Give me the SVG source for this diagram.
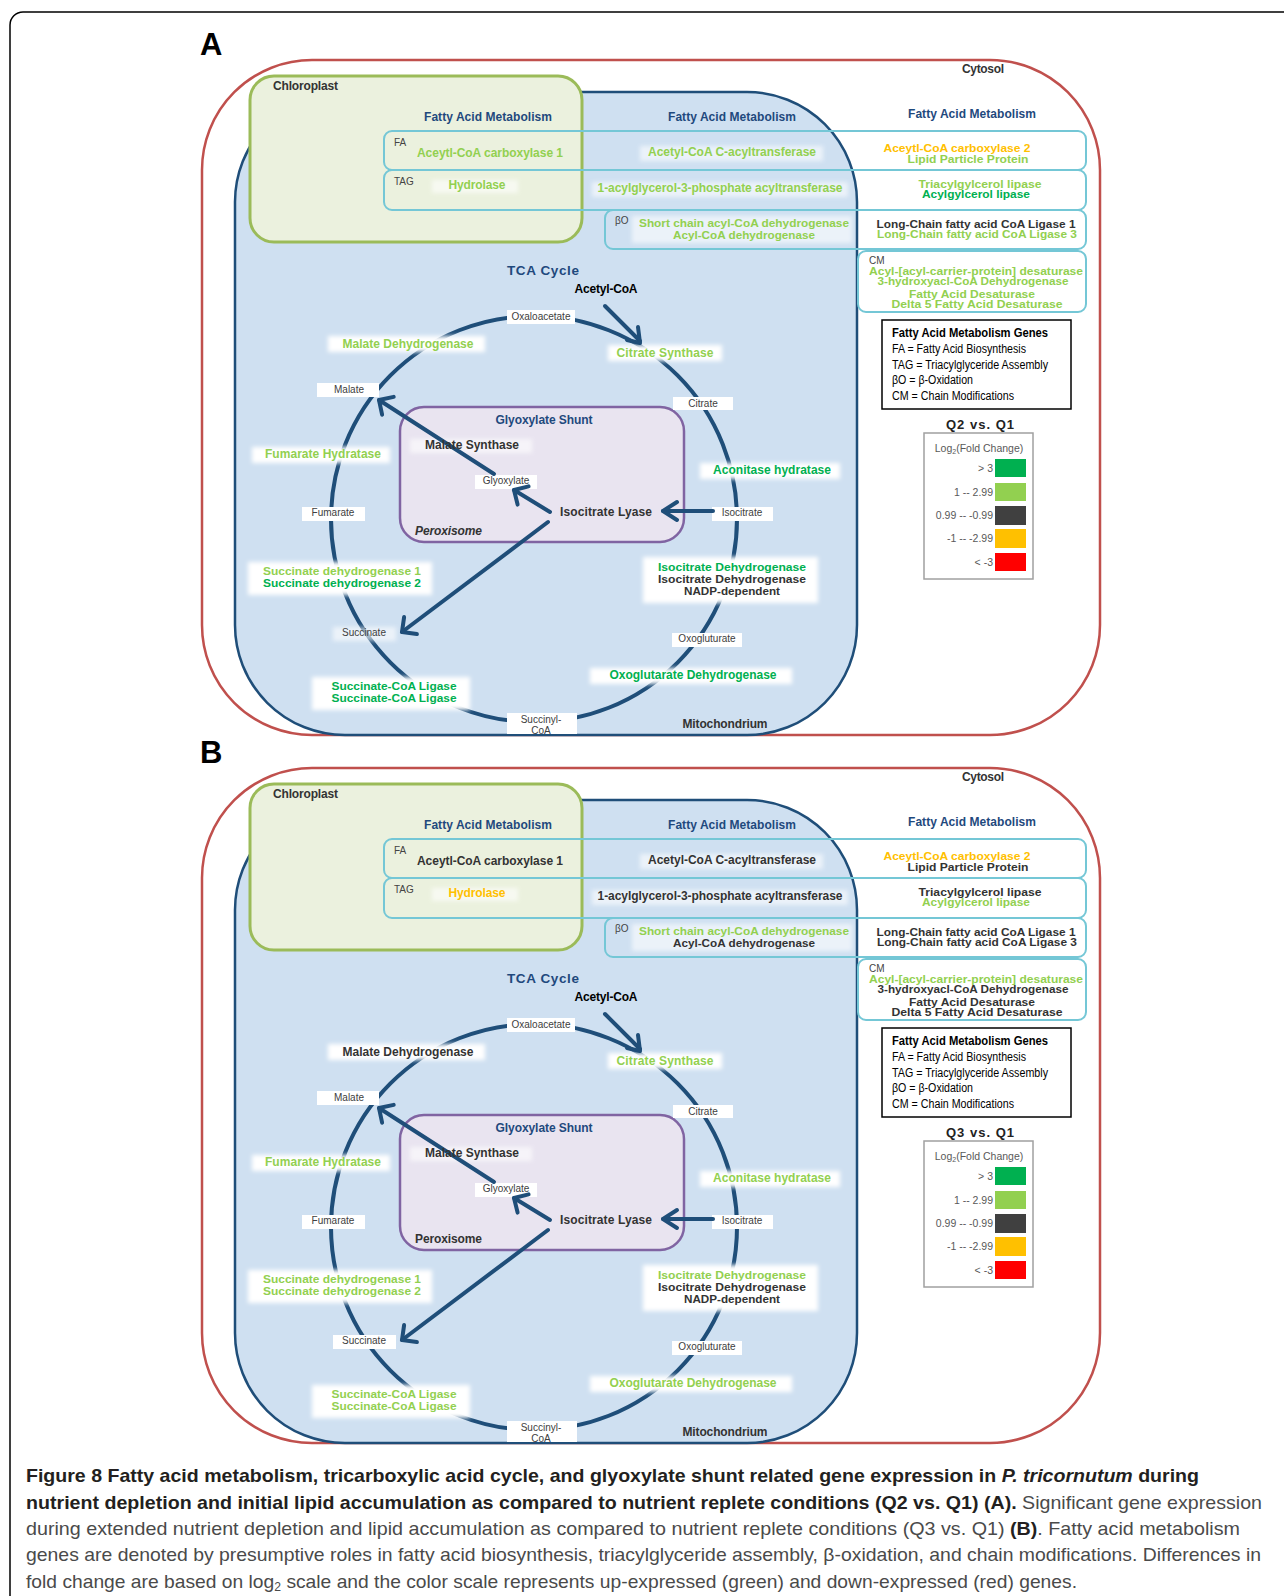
<svg xmlns="http://www.w3.org/2000/svg" width="1284" height="1596" viewBox="0 0 1284 1596">
<defs>
<style>
text{font-family:"Liberation Sans",Arial,sans-serif}
.b{font-weight:bold;font-size:12px;text-anchor:middle}
.s{font-size:10.3px}
.h{fill:#1f497d}
.lg{fill:#92d050}.dg{fill:#00b050}.gy{fill:#333333}.or{fill:#ffc000}.bk{fill:#000}
.met{font-size:10px;fill:#404040;text-anchor:middle}
.rl{font-size:10px;fill:#444}
.row{fill:none;stroke:#74c7d6;stroke-width:2}
.wb{fill:#fff;filter:url(#soft)}
.wg{fill:#fff;opacity:0.6;filter:url(#soft)}
.arr{fill:none;stroke:#1f4e79;stroke-width:4;stroke-linecap:round;stroke-linejoin:round}
.cyc{fill:none;stroke:#1f4e79;stroke-width:4}
.cyto{fill:#fff;stroke:#c0504d;stroke-width:2.5}
.mito{fill:#cfe0f1;stroke:#1f4e79;stroke-width:2.5}
.chl{fill:#ebf1de;stroke:#9bbb59;stroke-width:3}
.per{fill:#e9e4f0;stroke:#8064a2;stroke-width:2.5}
.leg{font-size:12px;fill:#000}
.sc{font-size:10.5px;fill:#595959;text-anchor:end}
.cap{font-size:19px;fill:#231f20}
.capl{fill:#4a4a4a;font-weight:normal}
</style>
<filter id="soft" x="-0.3" y="-0.8" width="1.6" height="2.6"><feGaussianBlur stdDeviation="2"/></filter>
</defs>
<rect width="1284" height="1596" fill="#fff"/>
<rect x="10" y="12" width="1300" height="1620" rx="13" fill="none" stroke="#000" stroke-width="1.5"/>

<g id="panelA">
<text x="200" y="55" style="font-size:31px;font-weight:bold" class="bk">A</text>
<g id="A-cytosol"><rect class="cyto" x="202" y="60" width="898" height="675" rx="110"/><text class="b gy" x="983" y="73" textLength="42">Cytosol</text></g>
<g id="A-mitochondrion"><rect class="mito" x="235" y="92" width="622" height="643" rx="110"/></g>
<g id="A-chloroplast"><rect class="chl" x="250" y="76" width="332" height="166" rx="24"/><text class="b gy" style="text-anchor:start" x="273" y="90" textLength="65">Chloroplast</text></g>
<g id="A-rows">
<rect class="row" x="384" y="131" width="702" height="39" rx="8"/>
<rect class="row" x="384" y="170" width="702" height="40" rx="8"/>
<rect class="row" x="605" y="210" width="481" height="39" rx="8"/>
<rect class="row" x="858" y="251" width="228" height="61" rx="8"/>
<text class="rl" x="394" y="146">FA</text>
<text class="rl" x="394" y="185">TAG</text>
<text class="rl" x="615" y="224">βO</text>
<text class="rl" x="869" y="264">CM</text>
</g>
<g id="A-peroxisome"><rect class="per" x="400" y="407" width="284" height="135" rx="24"/></g>
<g id="A-cycle"><circle class="cyc" cx="534" cy="519" r="203"/></g>
<g id="A-boxes">
<rect class="wg" x="432" y="180" width="86" height="13"/>
<rect class="wg" x="640" y="146" width="183" height="15"/>
<rect class="wg" x="592" y="182" width="256" height="15"/>
<rect class="wg" x="632" y="216" width="220" height="27"/>
<rect class="wb" x="328" y="336" width="157" height="16"/>
<rect class="wb" x="608" y="345" width="114" height="16"/>
<rect class="wb" x="700" y="463" width="140" height="16"/>
<rect class="wb" x="643" y="557" width="175" height="46"/>
<rect class="wb" x="590" y="668" width="202" height="16"/>
<rect class="wb" x="312" y="677" width="158" height="33"/>
<rect class="wb" x="248" y="562" width="184" height="33"/>
<rect class="wb" x="252" y="447" width="138" height="16"/>
<rect class="wg" x="410" y="439" width="122" height="14"/>
<rect fill="#fff" x="507" y="310" width="68" height="14"/>
<rect fill="#fff" x="673" y="397" width="60" height="13"/>
<rect fill="#fff" x="712" y="507" width="61" height="14"/>
<rect fill="#fff" x="672" y="633" width="70" height="14"/>
<rect fill="#fff" x="507" y="713" width="70" height="21"/>
<rect class="wg" x="333" y="627" width="63" height="14"/>
<rect fill="#fff" x="302" y="507" width="63" height="14"/>
<rect fill="#fff" x="317" y="383" width="62" height="14"/>
<rect fill="#fff" x="475" y="475" width="62" height="14"/>
</g>
<g id="A-connectors">
<path class="arr" d="M605,306 L640,341"/>
<path class="arr" d="M627,340 L640,343 L638,327"/>
<path class="arr" d="M713,511 L663,511"/>
<path class="arr" d="M677,502 L663,511 L677,520"/>
<path class="arr" d="M550,512 L514,490"/>
<path class="arr" d="M528.6,486.4 L514,490 L517.6,504.6"/>
<path class="arr" d="M494,474 L379,400"/>
<path class="arr" d="M393.7,396.9 L379,400 L382.1,414.7"/>
<path class="arr" d="M548,522 L402,632"/>
<path class="arr" d="M404.1,617.1 L402,632 L416.9,634.1"/>
</g>
<g id="A-fam">
<text class="b h" x="488" y="121" textLength="128">Fatty Acid Metabolism</text>
<text class="b h" x="732" y="121" textLength="128">Fatty Acid Metabolism</text>
<text class="b h" x="972" y="118" textLength="128">Fatty Acid Metabolism</text>
<text class="b lg" x="490" y="157" textLength="146">Aceytl-CoA carboxylase 1</text>
<text class="b lg" x="477" y="189" textLength="57">Hydrolase</text>
<text class="b lg" x="732" y="156" textLength="168">Acetyl-CoA C-acyltransferase</text>
<text class="b lg" x="720" y="192" textLength="245">1-acylglycerol-3-phosphate acyltransferase</text>
<text class="b s lg" x="744" y="227" textLength="210" lengthAdjust="spacingAndGlyphs">Short chain acyl-CoA dehydrogenase</text>
<text class="b s lg" x="744" y="239" textLength="142" lengthAdjust="spacingAndGlyphs">Acyl-CoA dehydrogenase</text>
<text class="b s or" x="957" y="152" textLength="147" lengthAdjust="spacingAndGlyphs">Aceytl-CoA carboxylase 2</text>
<text class="b s lg" x="968" y="163" textLength="121" lengthAdjust="spacingAndGlyphs">Lipid Particle Protein</text>
<text class="b s lg" x="980" y="188" textLength="123" lengthAdjust="spacingAndGlyphs">Triacylgylcerol lipase</text>
<text class="b s dg" x="976" y="198" textLength="108" lengthAdjust="spacingAndGlyphs">Acylgylcerol lipase</text>
<text class="b s gy" x="976" y="228" textLength="199" lengthAdjust="spacingAndGlyphs">Long-Chain fatty acid CoA Ligase 1</text>
<text class="b s lg" x="977" y="238" textLength="200" lengthAdjust="spacingAndGlyphs">Long-Chain fatty acid CoA Ligase 3</text>
<text class="b s lg" x="976" y="275" textLength="214" lengthAdjust="spacingAndGlyphs">Acyl-[acyl-carrier-protein] desaturase</text>
<text class="b s lg" x="973" y="285" textLength="191" lengthAdjust="spacingAndGlyphs">3-hydroxyacl-CoA Dehydrogenase</text>
<text class="b s lg" x="972" y="298" textLength="126" lengthAdjust="spacingAndGlyphs">Fatty Acid Desaturase</text>
<text class="b s lg" x="977" y="308" textLength="171" lengthAdjust="spacingAndGlyphs">Delta 5 Fatty Acid Desaturase</text>
</g>
<g id="A-tca">
<text class="b h" style="font-size:13.5px" x="543" y="275" textLength="72">TCA Cycle</text>
<text class="b bk" x="606" y="293" textLength="63">Acetyl-CoA</text>
<text class="b lg" x="408" y="348" textLength="131">Malate Dehydrogenase</text>
<text class="b lg" x="665" y="357" textLength="97">Citrate Synthase</text>
<text class="b dg" x="772" y="474" textLength="118">Aconitase hydratase</text>
<text class="b s dg" x="732" y="571" textLength="148" lengthAdjust="spacingAndGlyphs">Isocitrate Dehydrogenase</text>
<text class="b s gy" x="732" y="583" textLength="148" lengthAdjust="spacingAndGlyphs">Isocitrate Dehydrogenase</text>
<text class="b s gy" x="732" y="595" textLength="96" lengthAdjust="spacingAndGlyphs">NADP-dependent</text>
<text class="b dg" x="693" y="679" textLength="167">Oxoglutarate Dehydrogenase</text>
<text class="b s dg" x="394" y="690" textLength="125" lengthAdjust="spacingAndGlyphs">Succinate-CoA Ligase</text>
<text class="b s dg" x="394" y="702" textLength="125" lengthAdjust="spacingAndGlyphs">Succinate-CoA Ligase</text>
<text class="b s lg" x="342" y="575" textLength="158" lengthAdjust="spacingAndGlyphs">Succinate dehydrogenase 1</text>
<text class="b s dg" x="342" y="587" textLength="158" lengthAdjust="spacingAndGlyphs">Succinate dehydrogenase 2</text>
<text class="b lg" x="323" y="458" textLength="116">Fumarate Hydratase</text>
<text class="b h" x="544" y="424" textLength="97">Glyoxylate Shunt</text>
<text class="b gy" x="472" y="449" textLength="94">Malate Synthase</text>
<text class="b gy" x="606" y="516" textLength="92">Isocitrate Lyase</text>
<text class="b gy" style="text-anchor:start;font-style:italic" x="415" y="535" textLength="67">Peroxisome</text>
<text class="b gy" x="725" y="728" textLength="85">Mitochondrium</text>
<text class="met" x="541" y="320">Oxaloacetate</text>
<text class="met" x="703" y="407">Citrate</text>
<text class="met" x="742" y="516">Isocitrate</text>
<text class="met" x="707" y="642">Oxogluturate</text>
<text class="met" x="541" y="723">Succinyl-</text>
<text class="met" x="541" y="734">CoA</text>
<text class="met" x="364" y="636">Succinate</text>
<text class="met" x="333" y="516">Fumarate</text>
<text class="met" x="349" y="393">Malate</text>
<text class="met" x="506" y="484">Glyoxylate</text>
</g>
<g id="A-legend">
<rect x="882" y="320" width="189" height="89" fill="#fff" stroke="#000" stroke-width="1.5"/>
<text class="leg" style="font-weight:bold" x="892" y="337" textLength="156" lengthAdjust="spacingAndGlyphs">Fatty Acid Metabolism Genes</text>
<text class="leg" x="892" y="353" textLength="134" lengthAdjust="spacingAndGlyphs">FA = Fatty Acid Biosynthesis</text>
<text class="leg" x="892" y="369" textLength="156" lengthAdjust="spacingAndGlyphs">TAG = Triacylglyceride Assembly</text>
<text class="leg" x="892" y="384" textLength="81" lengthAdjust="spacingAndGlyphs">βO = β-Oxidation</text>
<text class="leg" x="892" y="400" textLength="122" lengthAdjust="spacingAndGlyphs">CM = Chain Modifications</text>
</g>
<g id="A-scale">
<text class="b" style="font-size:13px;fill:#222" x="980" y="429" textLength="68">Q2 vs. Q1</text>
<rect x="924" y="433" width="109" height="146" fill="#fff" stroke="#a0a0a0" stroke-width="1.5"/>
<text style="font-size:10.5px;fill:#595959;text-anchor:middle" x="979" y="452">Log<tspan style="font-size:7px" dy="2">2</tspan><tspan dy="-2">(Fold Change)</tspan></text>
<rect x="995" y="459" width="31" height="18" fill="#00b050"/>
<rect x="995" y="483" width="31" height="18" fill="#92d050"/>
<rect x="995" y="506" width="31" height="19" fill="#404040"/>
<rect x="995" y="529" width="31" height="19" fill="#ffc000"/>
<rect x="995" y="553" width="31" height="18" fill="#ff0000"/>
<text class="sc" x="993" y="472">&gt; 3</text>
<text class="sc" x="993" y="496">1 -- 2.99</text>
<text class="sc" x="993" y="519">0.99 -- -0.99</text>
<text class="sc" x="993" y="542">-1 -- -2.99</text>
<text class="sc" x="993" y="566">&lt; -3</text>
</g>
</g>

<g id="panelB" transform="translate(0,708)">
<text x="200" y="55" style="font-size:31px;font-weight:bold" class="bk">B</text>
<g id="B-cytosol"><rect class="cyto" x="202" y="60" width="898" height="675" rx="110"/><text class="b gy" x="983" y="73" textLength="42">Cytosol</text></g>
<g id="B-mitochondrion"><rect class="mito" x="235" y="92" width="622" height="643" rx="110"/></g>
<g id="B-chloroplast"><rect class="chl" x="250" y="76" width="332" height="166" rx="24"/><text class="b gy" style="text-anchor:start" x="273" y="90" textLength="65">Chloroplast</text></g>
<g id="B-rows">
<rect class="row" x="384" y="131" width="702" height="39" rx="8"/>
<rect class="row" x="384" y="170" width="702" height="40" rx="8"/>
<rect class="row" x="605" y="210" width="481" height="39" rx="8"/>
<rect class="row" x="858" y="251" width="228" height="61" rx="8"/>
<text class="rl" x="394" y="146">FA</text>
<text class="rl" x="394" y="185">TAG</text>
<text class="rl" x="615" y="224">βO</text>
<text class="rl" x="869" y="264">CM</text>
</g>
<g id="B-peroxisome"><rect class="per" x="400" y="407" width="284" height="135" rx="24"/></g>
<g id="B-cycle"><circle class="cyc" cx="534" cy="519" r="203"/></g>
<g id="B-boxes">
<rect class="wg" x="432" y="180" width="86" height="13"/>
<rect class="wg" x="640" y="146" width="183" height="15"/>
<rect class="wg" x="592" y="182" width="256" height="15"/>
<rect class="wg" x="632" y="216" width="220" height="27"/>
<rect class="wb" x="328" y="336" width="157" height="16"/>
<rect class="wb" x="608" y="345" width="114" height="16"/>
<rect class="wb" x="700" y="463" width="140" height="16"/>
<rect class="wb" x="643" y="557" width="175" height="46"/>
<rect class="wb" x="590" y="668" width="202" height="16"/>
<rect class="wb" x="312" y="677" width="158" height="33"/>
<rect class="wb" x="248" y="562" width="184" height="33"/>
<rect class="wb" x="252" y="447" width="138" height="16"/>
<rect class="wg" x="410" y="439" width="122" height="14"/>
<rect fill="#fff" x="507" y="310" width="68" height="14"/>
<rect fill="#fff" x="673" y="397" width="60" height="13"/>
<rect fill="#fff" x="712" y="507" width="61" height="14"/>
<rect fill="#fff" x="672" y="633" width="70" height="14"/>
<rect fill="#fff" x="507" y="713" width="70" height="21"/>
<rect fill="#fff" x="333" y="627" width="63" height="14"/>
<rect fill="#fff" x="302" y="507" width="63" height="14"/>
<rect fill="#fff" x="317" y="383" width="62" height="14"/>
<rect fill="#fff" x="475" y="475" width="62" height="14"/>
</g>
<g id="B-connectors">
<path class="arr" d="M605,306 L640,341"/>
<path class="arr" d="M627,340 L640,343 L638,327"/>
<path class="arr" d="M713,511 L663,511"/>
<path class="arr" d="M677,502 L663,511 L677,520"/>
<path class="arr" d="M550,512 L514,490"/>
<path class="arr" d="M528.6,486.4 L514,490 L517.6,504.6"/>
<path class="arr" d="M494,474 L379,400"/>
<path class="arr" d="M393.7,396.9 L379,400 L382.1,414.7"/>
<path class="arr" d="M548,522 L402,632"/>
<path class="arr" d="M404.1,617.1 L402,632 L416.9,634.1"/>
</g>
<g id="B-fam">
<text class="b h" x="488" y="121" textLength="128">Fatty Acid Metabolism</text>
<text class="b h" x="732" y="121" textLength="128">Fatty Acid Metabolism</text>
<text class="b h" x="972" y="118" textLength="128">Fatty Acid Metabolism</text>
<text class="b gy" x="490" y="157" textLength="146">Aceytl-CoA carboxylase 1</text>
<text class="b or" x="477" y="189" textLength="57">Hydrolase</text>
<text class="b gy" x="732" y="156" textLength="168">Acetyl-CoA C-acyltransferase</text>
<text class="b gy" x="720" y="192" textLength="245">1-acylglycerol-3-phosphate acyltransferase</text>
<text class="b s lg" x="744" y="227" textLength="210" lengthAdjust="spacingAndGlyphs">Short chain acyl-CoA dehydrogenase</text>
<text class="b s gy" x="744" y="239" textLength="142" lengthAdjust="spacingAndGlyphs">Acyl-CoA dehydrogenase</text>
<text class="b s or" x="957" y="152" textLength="147" lengthAdjust="spacingAndGlyphs">Aceytl-CoA carboxylase 2</text>
<text class="b s gy" x="968" y="163" textLength="121" lengthAdjust="spacingAndGlyphs">Lipid Particle Protein</text>
<text class="b s gy" x="980" y="188" textLength="123" lengthAdjust="spacingAndGlyphs">Triacylgylcerol lipase</text>
<text class="b s lg" x="976" y="198" textLength="108" lengthAdjust="spacingAndGlyphs">Acylgylcerol lipase</text>
<text class="b s gy" x="976" y="228" textLength="199" lengthAdjust="spacingAndGlyphs">Long-Chain fatty acid CoA Ligase 1</text>
<text class="b s gy" x="977" y="238" textLength="200" lengthAdjust="spacingAndGlyphs">Long-Chain fatty acid CoA Ligase 3</text>
<text class="b s lg" x="976" y="275" textLength="214" lengthAdjust="spacingAndGlyphs">Acyl-[acyl-carrier-protein] desaturase</text>
<text class="b s gy" x="973" y="285" textLength="191" lengthAdjust="spacingAndGlyphs">3-hydroxyacl-CoA Dehydrogenase</text>
<text class="b s gy" x="972" y="298" textLength="126" lengthAdjust="spacingAndGlyphs">Fatty Acid Desaturase</text>
<text class="b s gy" x="977" y="308" textLength="171" lengthAdjust="spacingAndGlyphs">Delta 5 Fatty Acid Desaturase</text>
</g>
<g id="B-tca">
<text class="b h" style="font-size:13.5px" x="543" y="275" textLength="72">TCA Cycle</text>
<text class="b bk" x="606" y="293" textLength="63">Acetyl-CoA</text>
<text class="b gy" x="408" y="348" textLength="131">Malate Dehydrogenase</text>
<text class="b lg" x="665" y="357" textLength="97">Citrate Synthase</text>
<text class="b lg" x="772" y="474" textLength="118">Aconitase hydratase</text>
<text class="b s lg" x="732" y="571" textLength="148" lengthAdjust="spacingAndGlyphs">Isocitrate Dehydrogenase</text>
<text class="b s gy" x="732" y="583" textLength="148" lengthAdjust="spacingAndGlyphs">Isocitrate Dehydrogenase</text>
<text class="b s gy" x="732" y="595" textLength="96" lengthAdjust="spacingAndGlyphs">NADP-dependent</text>
<text class="b lg" x="693" y="679" textLength="167">Oxoglutarate Dehydrogenase</text>
<text class="b s lg" x="394" y="690" textLength="125" lengthAdjust="spacingAndGlyphs">Succinate-CoA Ligase</text>
<text class="b s lg" x="394" y="702" textLength="125" lengthAdjust="spacingAndGlyphs">Succinate-CoA Ligase</text>
<text class="b s lg" x="342" y="575" textLength="158" lengthAdjust="spacingAndGlyphs">Succinate dehydrogenase 1</text>
<text class="b s lg" x="342" y="587" textLength="158" lengthAdjust="spacingAndGlyphs">Succinate dehydrogenase 2</text>
<text class="b lg" x="323" y="458" textLength="116">Fumarate Hydratase</text>
<text class="b h" x="544" y="424" textLength="97">Glyoxylate Shunt</text>
<text class="b gy" x="472" y="449" textLength="94">Malate Synthase</text>
<text class="b gy" x="606" y="516" textLength="92">Isocitrate Lyase</text>
<text class="b gy" style="text-anchor:start" x="415" y="535" textLength="67">Peroxisome</text>
<text class="b gy" x="725" y="728" textLength="85">Mitochondrium</text>
<text class="met" x="541" y="320">Oxaloacetate</text>
<text class="met" x="703" y="407">Citrate</text>
<text class="met" x="742" y="516">Isocitrate</text>
<text class="met" x="707" y="642">Oxogluturate</text>
<text class="met" x="541" y="723">Succinyl-</text>
<text class="met" x="541" y="734">CoA</text>
<text class="met" x="364" y="636">Succinate</text>
<text class="met" x="333" y="516">Fumarate</text>
<text class="met" x="349" y="393">Malate</text>
<text class="met" x="506" y="484">Glyoxylate</text>
</g>
<g id="B-legend">
<rect x="882" y="320" width="189" height="89" fill="#fff" stroke="#000" stroke-width="1.5"/>
<text class="leg" style="font-weight:bold" x="892" y="337" textLength="156" lengthAdjust="spacingAndGlyphs">Fatty Acid Metabolism Genes</text>
<text class="leg" x="892" y="353" textLength="134" lengthAdjust="spacingAndGlyphs">FA = Fatty Acid Biosynthesis</text>
<text class="leg" x="892" y="369" textLength="156" lengthAdjust="spacingAndGlyphs">TAG = Triacylglyceride Assembly</text>
<text class="leg" x="892" y="384" textLength="81" lengthAdjust="spacingAndGlyphs">βO = β-Oxidation</text>
<text class="leg" x="892" y="400" textLength="122" lengthAdjust="spacingAndGlyphs">CM = Chain Modifications</text>
</g>
<g id="B-scale">
<text class="b" style="font-size:13px;fill:#222" x="980" y="429" textLength="68">Q3 vs. Q1</text>
<rect x="924" y="433" width="109" height="146" fill="#fff" stroke="#a0a0a0" stroke-width="1.5"/>
<text style="font-size:10.5px;fill:#595959;text-anchor:middle" x="979" y="452">Log<tspan style="font-size:7px" dy="2">2</tspan><tspan dy="-2">(Fold Change)</tspan></text>
<rect x="995" y="459" width="31" height="18" fill="#00b050"/>
<rect x="995" y="483" width="31" height="18" fill="#92d050"/>
<rect x="995" y="506" width="31" height="19" fill="#404040"/>
<rect x="995" y="529" width="31" height="19" fill="#ffc000"/>
<rect x="995" y="553" width="31" height="18" fill="#ff0000"/>
<text class="sc" x="993" y="472">&gt; 3</text>
<text class="sc" x="993" y="496">1 -- 2.99</text>
<text class="sc" x="993" y="519">0.99 -- -0.99</text>
<text class="sc" x="993" y="542">-1 -- -2.99</text>
<text class="sc" x="993" y="566">&lt; -3</text>
</g>
</g>

<g id="caption">
<text class="cap" style="font-weight:bold" x="26" y="1482" textLength="1173" lengthAdjust="spacingAndGlyphs">Figure 8 Fatty acid metabolism, tricarboxylic acid cycle, and glyoxylate shunt related gene expression in <tspan style="font-style:italic">P. tricornutum</tspan> during</text>
<text class="cap" style="font-weight:bold" x="26" y="1509" textLength="1236" lengthAdjust="spacingAndGlyphs">nutrient depletion and initial lipid accumulation as compared to nutrient replete conditions (Q2 vs. Q1) (A).<tspan class="capl"> Significant gene expression</tspan></text>
<text class="cap capl" x="26" y="1535" textLength="1214" lengthAdjust="spacingAndGlyphs">during extended nutrient depletion and lipid accumulation as compared to nutrient replete conditions (Q3 vs. Q1) <tspan style="font-weight:bold;fill:#231f20">(B)</tspan>. Fatty acid metabolism</text>
<text class="cap capl" x="26" y="1561" textLength="1235" lengthAdjust="spacingAndGlyphs">genes are denoted by presumptive roles in fatty acid biosynthesis, triacylglyceride assembly, β-oxidation, and chain modifications. Differences in</text>
<text class="cap capl" x="26" y="1588" textLength="1051" lengthAdjust="spacingAndGlyphs">fold change are based on log<tspan style="font-size:12px" dy="3">2</tspan><tspan dy="-3"> scale and the color scale represents up-expressed (green) and down-expressed (red) genes.</tspan></text>
</g>
</svg>
